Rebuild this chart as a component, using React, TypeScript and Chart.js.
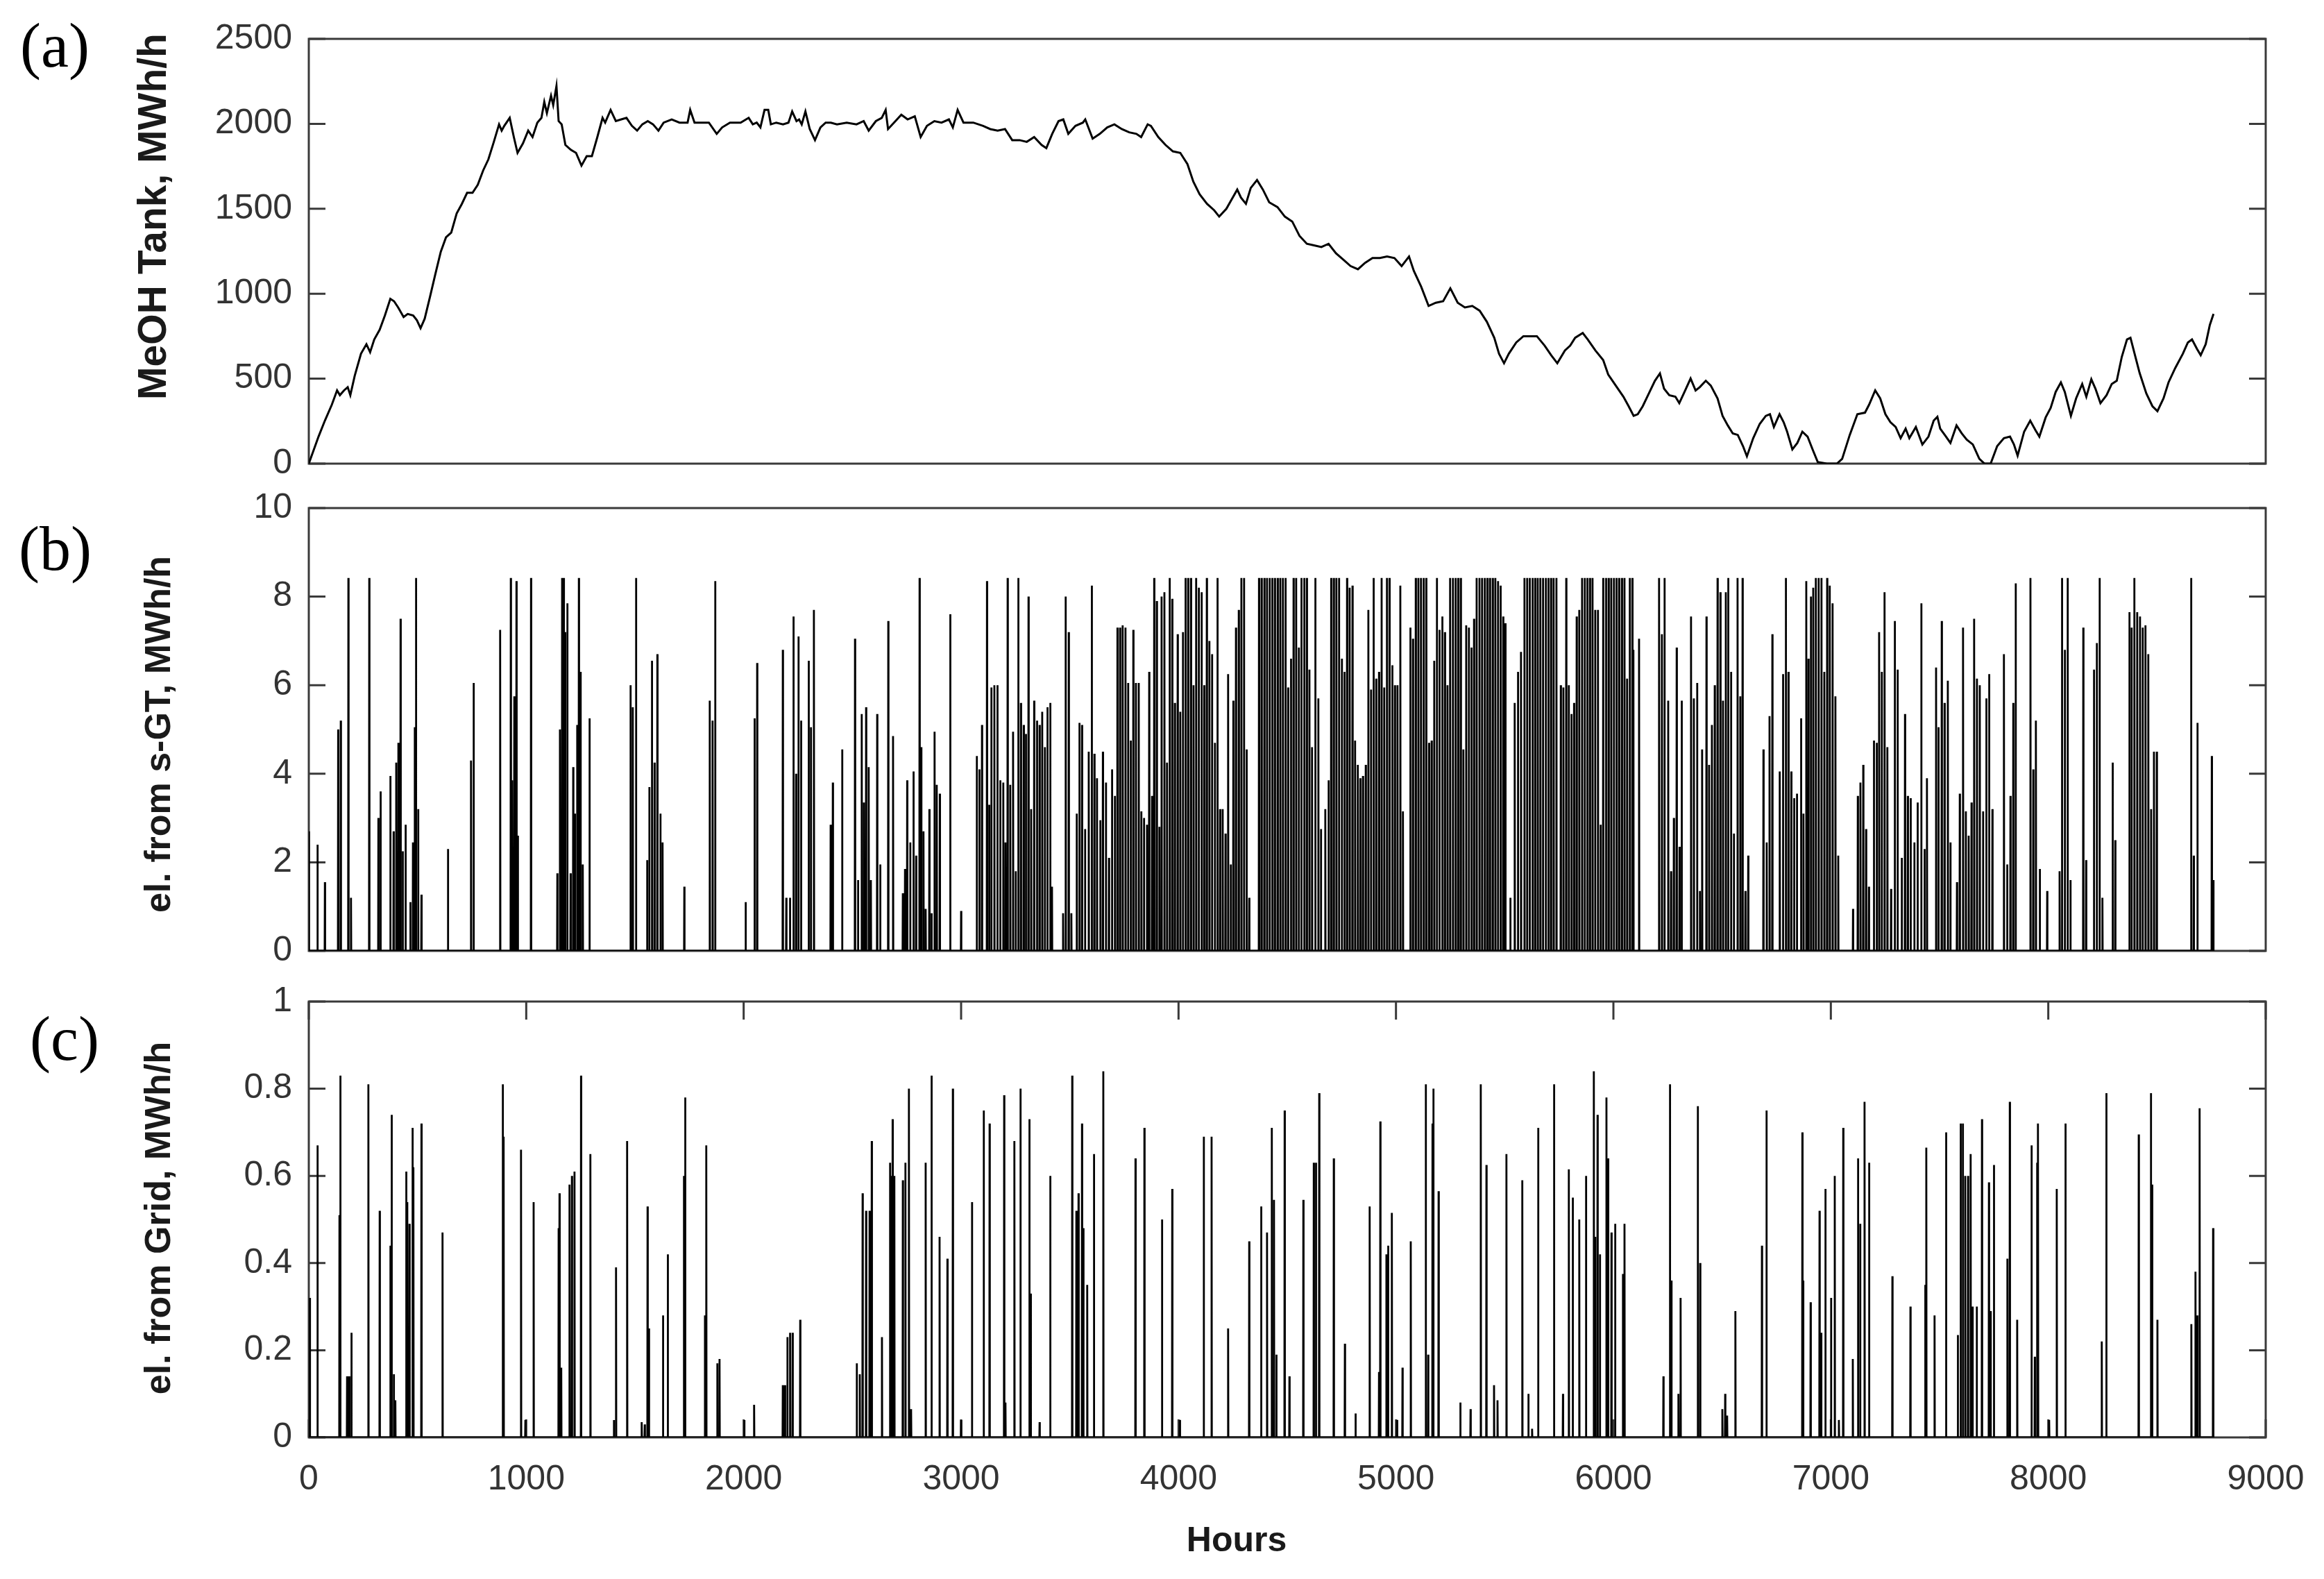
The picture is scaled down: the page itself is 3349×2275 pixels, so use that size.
import React, { useEffect, useRef } from 'react';
import { Chart, registerables } from 'chart.js';

Chart.register(...registerables);

// ---------------- DATA ----------------
const HOURS_IN_YEAR = 8760;
const hourTicks = [0, 1000, 2000, 3000, 4000, 5000, 6000, 7000, 8000, 9000];
const tankTicks = [0, 500, 1000, 1500, 2000, 2500];
const gtTicks = [0, 2, 4, 6, 8, 10];
const gridTicks = [0, 0.2, 0.4, 0.6, 0.8, 1];

// (a) MeOH tank level [hour, MWh/h]
const tankLevel: [number, number][] = [
  [0, 0], [45, 160], [74, 253], [106, 347], [130, 431], [143, 403], [162, 431], [179, 450], [191, 403],
  [211, 516], [240, 647], [265, 703], [282, 656], [301, 731], [326, 788], [350, 872], [375, 970],
  [392, 956], [411, 919], [436, 863], [455, 881], [480, 872], [497, 844], [514, 797], [533, 853],
  [558, 985], [582, 1116], [607, 1247], [631, 1332], [655, 1360], [680, 1472], [704, 1529], [728, 1594],
  [753, 1594], [777, 1641], [802, 1726], [826, 1791], [851, 1894], [875, 1997], [887, 1960], [899, 1988],
  [924, 2035], [943, 1922], [960, 1829], [985, 1885], [1009, 1960], [1029, 1922], [1051, 2007], [1070, 2035],
  [1083, 2129], [1095, 2063], [1114, 2166], [1124, 2110], [1139, 2222], [1149, 2016], [1163, 1997],
  [1180, 1876], [1205, 1847], [1229, 1829], [1254, 1754], [1278, 1810], [1302, 1810], [1327, 1922],
  [1351, 2035], [1363, 2007], [1388, 2082], [1412, 2016], [1437, 2026], [1461, 2035], [1486, 1988],
  [1510, 1960], [1534, 1997], [1559, 2016], [1583, 1997], [1608, 1960], [1632, 2007], [1669, 2026],
  [1705, 2007], [1742, 2007], [1754, 2082], [1774, 2007], [1803, 2007], [1840, 2007], [1876, 1941],
  [1901, 1979], [1937, 2007], [1986, 2007], [2023, 2035], [2042, 1997], [2060, 2007], [2077, 1979],
  [2096, 2082], [2113, 2082], [2125, 1997], [2150, 2007], [2181, 1997], [2206, 2007], [2223, 2073],
  [2243, 2016], [2255, 2026], [2267, 1997], [2284, 2073], [2304, 1969], [2328, 1904], [2353, 1979],
  [2377, 2007], [2401, 2007], [2429, 1997], [2474, 2007], [2519, 1997], [2552, 2016], [2575, 1960],
  [2608, 2016], [2635, 2035], [2653, 2082], [2664, 1969], [2698, 2016], [2725, 2054], [2754, 2026],
  [2787, 2044], [2814, 1922], [2843, 1988], [2877, 2016], [2910, 2007], [2944, 2026], [2962, 1979],
  [2984, 2082], [3011, 2007], [3056, 2007], [3101, 1988], [3134, 1969], [3168, 1960], [3202, 1969],
  [3235, 1904], [3269, 1904], [3302, 1894], [3336, 1922], [3370, 1876], [3392, 1857], [3419, 1941],
  [3448, 2016], [3470, 2026], [3493, 1941], [3526, 1988], [3560, 2007], [3571, 2026], [3605, 1913],
  [3638, 1941], [3672, 1979], [3705, 1997], [3739, 1969], [3773, 1950], [3806, 1941], [3828, 1922],
  [3858, 1997], [3873, 1988], [3907, 1922], [3940, 1876], [3974, 1838], [4008, 1829], [4041, 1763],
  [4068, 1660], [4097, 1585], [4131, 1529], [4164, 1491], [4187, 1454], [4220, 1500], [4249, 1566],
  [4270, 1613], [4287, 1566], [4310, 1529], [4332, 1622], [4361, 1669], [4388, 1613], [4417, 1538],
  [4455, 1510], [4489, 1454], [4523, 1425], [4556, 1341], [4590, 1294], [4623, 1285], [4657, 1275],
  [4690, 1294], [4724, 1238], [4758, 1200], [4791, 1163], [4825, 1144], [4858, 1182], [4892, 1210],
  [4926, 1210], [4959, 1219], [4993, 1210], [5026, 1163], [5060, 1219], [5082, 1135], [5116, 1041],
  [5150, 928], [5183, 947], [5217, 956], [5250, 1032], [5284, 947], [5317, 919], [5351, 928], [5385, 900],
  [5418, 835], [5452, 741], [5474, 647], [5497, 591], [5519, 647], [5553, 713], [5586, 750], [5620, 750],
  [5648, 750], [5684, 694], [5714, 638], [5742, 591], [5777, 666], [5801, 694], [5824, 741], [5859, 769],
  [5882, 731], [5917, 666], [5953, 610], [5976, 525], [6011, 459], [6046, 394], [6070, 338], [6093, 281],
  [6112, 291], [6135, 338], [6163, 413], [6191, 488], [6214, 531], [6233, 441], [6257, 403], [6285, 394],
  [6303, 356], [6327, 422], [6355, 501], [6378, 431], [6397, 450], [6425, 488], [6448, 459], [6479, 384],
  [6502, 281], [6526, 225], [6549, 178], [6572, 169], [6596, 103], [6614, 43], [6643, 150], [6673, 234],
  [6701, 281], [6720, 291], [6738, 216], [6764, 291], [6783, 244], [6799, 188], [6823, 84], [6846, 122],
  [6869, 188], [6893, 159], [6916, 84], [6940, 9], [6982, 0], [7028, 0], [7052, 28], [7087, 169],
  [7122, 291], [7157, 300], [7176, 347], [7204, 431], [7227, 384], [7251, 291], [7274, 244], [7298, 216],
  [7321, 150], [7344, 206], [7361, 150], [7391, 216], [7421, 113], [7449, 159], [7473, 253], [7490, 276],
  [7503, 206], [7524, 169], [7550, 122], [7578, 225], [7602, 178], [7625, 141], [7653, 113], [7683, 28],
  [7707, 0], [7735, 0], [7765, 103], [7796, 150], [7824, 159], [7842, 113], [7859, 47], [7889, 188],
  [7917, 253], [7941, 197], [7959, 159], [7988, 272], [8011, 328], [8034, 422], [8058, 478], [8076, 422],
  [8104, 281], [8128, 384], [8156, 469], [8175, 394], [8198, 497], [8217, 441], [8240, 356], [8268, 403],
  [8292, 469], [8315, 488], [8338, 628], [8362, 731], [8378, 741], [8397, 647], [8420, 534], [8451, 413],
  [8479, 338], [8502, 309], [8530, 384], [8553, 478], [8584, 563], [8619, 647], [8642, 713], [8661, 731],
  [8684, 675], [8701, 638], [8724, 703], [8743, 816], [8760, 881],
];

// (b) electricity from s-GT: hours with output [hour, MWh/h]; zero elsewhere
const gtOutput: [number, number][] = [
  [0, 2.7], [40, 2.4], [74, 1.55], [135, 5.0], [147, 5.2], [182, 8.42], [194, 1.2], [278, 8.42], [320, 3.0],
  [330, 3.6], [375, 3.95], [390, 2.7], [402, 4.25], [412, 4.7], [422, 7.5], [432, 2.25], [445, 2.85],
  [467, 1.1], [479, 2.45], [487, 5.05], [493, 8.42], [503, 3.2], [518, 1.27], [640, 2.3], [746, 4.3],
  [758, 6.05], [880, 7.25], [929, 8.42], [935, 3.85], [945, 5.75], [955, 8.35], [961, 2.6], [1022, 8.42],
  [1143, 1.75], [1155, 5.0], [1165, 8.42], [1173, 8.42], [1179, 7.2], [1189, 7.85], [1204, 1.75],
  [1216, 4.15], [1224, 3.1], [1234, 5.1], [1242, 8.42], [1250, 6.3], [1260, 1.95], [1291, 5.25],
  [1480, 6.0], [1490, 5.5], [1505, 8.42], [1556, 2.05], [1566, 3.7], [1578, 6.55], [1590, 4.25],
  [1603, 6.7], [1617, 3.1], [1627, 2.45], [1727, 1.45], [1844, 5.65], [1857, 5.2], [1869, 8.35],
  [2009, 1.1], [2050, 5.25], [2062, 6.5], [2180, 6.8], [2196, 1.2], [2213, 1.2], [2229, 7.55], [2241, 4.0],
  [2252, 7.1], [2264, 5.2], [2299, 6.55], [2309, 5.05], [2323, 7.7], [2400, 2.85], [2410, 3.8],
  [2453, 4.55], [2512, 7.05], [2526, 1.6], [2543, 5.35], [2553, 3.35], [2563, 5.5], [2575, 4.15],
  [2585, 1.6], [2614, 5.35], [2628, 1.95], [2665, 7.45], [2687, 4.85], [2732, 1.3], [2742, 1.85],
  [2752, 3.85], [2766, 2.45], [2781, 4.05], [2793, 2.15], [2809, 8.42], [2817, 4.6], [2827, 2.7],
  [2837, 0.95], [2854, 3.2], [2864, 0.85], [2878, 4.95], [2888, 3.75], [2902, 3.55], [2950, 7.6],
  [3000, 0.9],
  [3072, 4.4], [3084, 4.1], [3096, 5.1], [3119, 8.35], [3129, 3.3], [3139, 5.95], [3153, 6.0], [3167, 6.0],
  [3180, 3.85], [3194, 3.8], [3204, 2.45], [3214, 8.42], [3226, 3.75], [3239, 4.95], [3251, 1.8],
  [3263, 8.42], [3275, 5.6], [3288, 5.1], [3298, 4.9], [3310, 8.0], [3322, 3.2], [3336, 5.65], [3349, 5.2],
  [3361, 5.1], [3373, 5.4], [3385, 4.6], [3397, 5.5], [3410, 5.6], [3418, 1.45],
  [3469, 0.85], [3481, 8.0], [3495, 7.2], [3507, 0.85], [3532, 3.1], [3544, 5.15], [3556, 5.1], [3570, 2.75],
  [3587, 4.5], [3601, 8.25], [3613, 4.45], [3625, 3.9], [3640, 2.95], [3652, 4.5], [3666, 3.8], [3680, 2.1],
  [3694, 4.1], [3707, 3.5], [3719, 7.3], [3731, 7.3], [3743, 7.35], [3756, 7.3], [3768, 6.05], [3780, 4.75],
  [3792, 7.25], [3804, 6.05], [3817, 6.05], [3829, 3.15], [3841, 3.0],
  [3855, 2.85], [3865, 6.3], [3878, 3.5], [3888, 8.42], [3900, 7.9], [3912, 2.8], [3922, 8.0], [3935, 8.1],
  [3947, 4.25], [3959, 8.42], [3971, 7.95], [3983, 5.6], [3996, 7.15], [4008, 5.4], [4020, 7.2],
  [4032, 8.42], [4044, 8.42], [4057, 8.42], [4069, 6.0], [4081, 8.42], [4093, 8.2], [4106, 8.1], [4118, 6.0],
  [4130, 8.42], [4142, 7.0], [4154, 6.7], [4167, 4.7], [4179, 8.42], [4191, 3.2], [4203, 3.2], [4216, 2.65],
  [4228, 6.25], [4240, 1.95], [4252, 5.65], [4264, 7.3], [4277, 7.7], [4289, 8.42], [4301, 8.42],
  [4313, 4.55], [4325, 1.2],
  [4370, 8.42], [4382, 8.42], [4395, 8.42], [4407, 8.42], [4419, 8.42], [4431, 8.42], [4443, 8.42],
  [4456, 8.42], [4468, 8.42], [4480, 8.42], [4492, 8.42], [4504, 5.95], [4517, 6.6], [4529, 8.42],
  [4541, 8.42], [4553, 6.85], [4565, 8.42], [4578, 8.42], [4590, 8.42], [4602, 6.35], [4614, 4.6],
  [4629, 8.42], [4643, 5.7], [4655, 2.75], [4675, 3.2], [4690, 3.85], [4702, 8.42], [4714, 8.42],
  [4726, 8.42], [4738, 8.42], [4751, 6.6], [4763, 6.3], [4775, 8.42], [4787, 8.2], [4800, 8.25],
  [4812, 4.75], [4824, 4.2], [4836, 3.9], [4848, 3.95], [4861, 4.2], [4873, 7.7], [4885, 5.9], [4897, 8.42],
  [4909, 6.15], [4922, 6.3], [4934, 8.42], [4946, 5.95], [4958, 8.42], [4970, 8.42], [4983, 6.45],
  [4995, 6.0], [5007, 6.0], [5020, 8.25], [5032, 3.15],
  [5066, 7.3], [5078, 7.05], [5091, 8.42], [5103, 8.42], [5115, 8.42], [5127, 8.42], [5139, 8.42],
  [5152, 4.7], [5164, 4.75], [5176, 6.55], [5188, 8.42], [5200, 7.25], [5213, 7.55], [5225, 7.2], [5237, 6.0],
  [5249, 8.42], [5262, 8.42], [5274, 8.42], [5286, 8.42], [5298, 8.42], [5310, 4.55], [5323, 7.35],
  [5335, 7.3], [5347, 6.85], [5359, 7.5], [5371, 8.42], [5384, 8.42], [5396, 8.42], [5408, 8.42],
  [5420, 8.42], [5432, 8.42], [5445, 8.42], [5457, 8.42], [5469, 8.35], [5481, 8.25], [5493, 7.55],
  [5503, 7.4],
  [5526, 1.2], [5546, 5.6], [5561, 6.3], [5575, 6.75], [5591, 8.42], [5603, 8.42], [5615, 8.42],
  [5628, 8.42], [5640, 8.42], [5652, 8.42], [5664, 8.42], [5676, 8.42], [5689, 8.42], [5701, 8.42],
  [5713, 8.42], [5725, 8.42], [5738, 8.42], [5758, 6.0], [5770, 5.95], [5783, 8.42], [5795, 6.0],
  [5807, 5.35], [5819, 5.6], [5831, 7.55], [5843, 7.7], [5856, 8.42], [5868, 8.42], [5880, 8.42],
  [5892, 8.42], [5904, 8.42], [5916, 7.7], [5929, 7.7], [5941, 2.85], [5953, 8.42], [5966, 8.42],
  [5978, 8.42], [5990, 8.42], [6002, 8.42], [6014, 8.42], [6026, 8.42], [6039, 8.42], [6051, 8.42],
  [6063, 6.15], [6075, 8.42], [6087, 8.42], [6092, 6.8], [6118, 7.05],
  [6210, 8.42], [6223, 7.15], [6235, 8.42], [6252, 5.65], [6265, 1.8], [6278, 3.0], [6291, 6.85],
  [6304, 2.35], [6314, 5.65],
  [6357, 7.55], [6370, 5.7], [6385, 6.05], [6398, 1.35], [6408, 4.55], [6428, 7.55], [6440, 4.2],
  [6453, 5.1], [6466, 6.0], [6479, 8.42], [6492, 8.1], [6504, 5.65], [6517, 8.1], [6528, 8.42], [6541, 6.3],
  [6554, 2.65], [6571, 8.42], [6583, 5.75], [6594, 8.42], [6607, 1.35], [6620, 2.15],
  [6690, 4.55], [6705, 2.45], [6718, 5.3], [6731, 7.15], [6765, 4.05], [6780, 6.25], [6793, 8.42],
  [6805, 6.3], [6818, 4.05], [6831, 3.45], [6844, 3.55], [6863, 5.25], [6874, 3.1], [6887, 8.35],
  [6897, 6.6], [6908, 8.0], [6919, 8.2], [6931, 8.42], [6944, 8.42], [6957, 8.42], [6970, 6.3],
  [6983, 8.42], [6995, 8.25], [7008, 7.85], [7021, 5.75], [7034, 2.15],
  [7102, 0.95], [7124, 3.5], [7136, 3.8], [7149, 4.2], [7162, 2.75], [7175, 1.45], [7198, 4.75],
  [7211, 4.7], [7222, 7.2], [7234, 6.3], [7247, 8.1], [7260, 4.6], [7277, 1.4], [7294, 7.45], [7307, 6.35],
  [7326, 2.1], [7341, 5.35], [7354, 3.5], [7367, 3.45], [7384, 2.45], [7399, 3.35], [7416, 7.85],
  [7431, 2.3], [7442, 3.9],
  [7484, 6.4], [7495, 5.05], [7510, 7.45], [7523, 5.6], [7538, 6.1], [7550, 2.45], [7580, 1.55],
  [7593, 3.55], [7608, 7.3], [7621, 3.15], [7634, 2.6], [7647, 3.35], [7659, 7.5], [7672, 6.15],
  [7685, 6.0], [7700, 3.15], [7715, 5.7], [7728, 6.25], [7743, 3.2],
  [7796, 6.7], [7811, 1.95], [7826, 3.5], [7839, 5.6], [7850, 8.3],
  [7918, 8.42], [7931, 4.1], [7943, 5.2], [7961, 1.85], [7995, 1.35],
  [8052, 1.8], [8063, 8.42], [8076, 6.8], [8089, 8.42], [8102, 1.6], [8161, 7.3], [8174, 2.05],
  [8210, 6.35], [8223, 6.95], [8236, 8.42], [8249, 1.2], [8296, 4.25], [8308, 2.5],
  [8373, 7.65], [8383, 7.3], [8396, 8.42], [8409, 7.65], [8422, 7.55], [8434, 7.3], [8447, 7.35],
  [8460, 6.7], [8473, 3.2], [8486, 4.5], [8499, 4.5],
  [8657, 8.42], [8669, 2.15], [8686, 5.15], [8752, 4.4], [8760, 1.6],
];

// (c) electricity from grid: hours with import [hour, MWh/h]; zero elsewhere
const gridImport: [number, number][] = [
  [5, 0.32], [40, 0.67], [141, 0.51], [145, 0.83], [176, 0.14], [186, 0.14], [196, 0.24], [274, 0.81],
  [326, 0.52], [375, 0.44], [381, 0.74], [391, 0.145], [398, 0.085], [448, 0.61], [453, 0.54], [463, 0.49],
  [477, 0.71], [481, 0.62], [518, 0.72], [615, 0.47], [892, 0.81], [896, 0.69], [976, 0.66], [996, 0.04],
  [1034, 0.54], [1149, 0.48], [1153, 0.56], [1161, 0.16], [1199, 0.58], [1210, 0.6], [1222, 0.61],
  [1252, 0.83], [1295, 0.65], [1403, 0.04], [1413, 0.39], [1464, 0.68], [1531, 0.035], [1545, 0.03],
  [1558, 0.53], [1564, 0.25], [1629, 0.28], [1651, 0.42], [1725, 0.6], [1731, 0.78], [1822, 0.28],
  [1828, 0.67], [1879, 0.17], [1889, 0.18], [2003, 0.04], [2048, 0.075], [2180, 0.12], [2190, 0.12],
  [2201, 0.23], [2213, 0.24], [2225, 0.24], [2260, 0.27], [2520, 0.17], [2534, 0.145], [2547, 0.56],
  [2563, 0.52], [2579, 0.52], [2589, 0.68], [2636, 0.23], [2673, 0.63], [2679, 0.6], [2685, 0.73],
  [2693, 0.6], [2732, 0.59], [2744, 0.63], [2760, 0.8], [2770, 0.065], [2837, 0.63], [2864, 0.83],
  [2901, 0.46], [2937, 0.41], [2962, 0.8], [3000, 0.04], [3050, 0.54],
  [3104, 0.75], [3131, 0.72], [3198, 0.785], [3204, 0.08], [3245, 0.68], [3273, 0.8], [3314, 0.73],
  [3320, 0.33], [3361, 0.035], [3410, 0.6], [3511, 0.83], [3530, 0.52], [3540, 0.56], [3556, 0.72],
  [3562, 0.48], [3580, 0.35], [3611, 0.65], [3654, 0.84], [3802, 0.64], [3843, 0.71], [3924, 0.5],
  [3971, 0.57], [4006, 0.04], [4116, 0.69], [4152, 0.69], [4228, 0.25], [4325, 0.45], [4380, 0.53],
  [4407, 0.47], [4429, 0.71], [4439, 0.545], [4450, 0.19], [4488, 0.75], [4510, 0.14], [4574, 0.545],
  [4622, 0.63], [4632, 0.63], [4647, 0.79], [4714, 0.64], [4765, 0.215], [4814, 0.055], [4879, 0.53],
  [4922, 0.15], [4928, 0.725], [4956, 0.42], [4964, 0.44], [4981, 0.515], [5005, 0.04], [5030, 0.16],
  [5068, 0.45], [5137, 0.81], [5148, 0.19], [5168, 0.72], [5172, 0.8], [5196, 0.565], [5296, 0.08],
  [5343, 0.065], [5390, 0.81], [5416, 0.625], [5451, 0.12], [5467, 0.085], [5508, 0.65], [5581, 0.59],
  [5609, 0.1], [5626, 0.02], [5654, 0.71], [5727, 0.81], [5768, 0.1], [5795, 0.615], [5813, 0.55],
  [5843, 0.5], [5874, 0.6], [5910, 0.84], [5916, 0.46], [5927, 0.74], [5938, 0.42], [5968, 0.78],
  [5976, 0.64], [5991, 0.47], [6008, 0.49], [6044, 0.375], [6051, 0.49],
  [6230, 0.14], [6260, 0.81], [6267, 0.36], [6299, 0.1], [6309, 0.32], [6388, 0.76], [6399, 0.4],
  [6501, 0.065], [6514, 0.1], [6523, 0.05], [6561, 0.29], [6683, 0.44], [6704, 0.75], [6869, 0.7],
  [6873, 0.36], [6907, 0.31], [6948, 0.52], [6956, 0.24], [6975, 0.57], [7001, 0.32], [7018, 0.6],
  [7037, 0.04], [7057, 0.71], [7101, 0.18], [7125, 0.64], [7135, 0.49], [7155, 0.77], [7176, 0.63],
  [7283, 0.37], [7366, 0.3], [7434, 0.35], [7439, 0.665], [7477, 0.28], [7530, 0.7], [7584, 0.235],
  [7597, 0.72], [7607, 0.72], [7618, 0.6], [7631, 0.6], [7643, 0.65], [7652, 0.3], [7671, 0.3],
  [7695, 0.73], [7727, 0.585], [7735, 0.29], [7750, 0.625], [7812, 0.41], [7823, 0.77], [7857, 0.27],
  [7923, 0.67], [7938, 0.185], [7949, 0.63], [7953, 0.72], [8004, 0.04], [8039, 0.57], [8079, 0.72],
  [8246, 0.22], [8267, 0.79], [8416, 0.695], [8472, 0.79], [8478, 0.58], [8502, 0.27], [8658, 0.26],
  [8677, 0.38], [8685, 0.28], [8696, 0.755], [8758, 0.48],
];

// ---------------- HELPERS ----------------
const SANS = '"Liberation Sans", Arial, Helvetica, sans-serif';
const SERIF = '"Liberation Serif", "Times New Roman", serif';
const PAGE_W = 3349;
const PLOT_LEFT = 445;
const PLOT_RIGHT = 3265;
const Y_BOX = 200;
const X_BOX = 180;
const AXIS_COLOR = '#3a3a3a';
const TICK_TEXT = '#333333';
const TICK_FONT = 50;

function lineSeries(pairs: [number, number][]) {
  return pairs.map(([x, y]) => ({ x, y }));
}

// hourly series: zero except the listed hours
function hourlySeries(pairs: [number, number][], end: number) {
  const pts: { x: number; y: number }[] = [];
  if (!pairs.length || pairs[0][0] > 0) pts.push({ x: 0, y: 0 });
  for (const [h, v] of pairs) {
    const last = pts.length ? pts[pts.length - 1].x : -Infinity;
    if (h - 1 > last) pts.push({ x: h - 1, y: 0 });
    pts.push({ x: h, y: v });
    if (h + 1 <= end) pts.push({ x: h + 1, y: 0 });
  }
  if (pts[pts.length - 1].x < end) pts.push({ x: end, y: 0 });
  return pts;
}

const framePlugin = {
  id: 'frameTicks',
  beforeDatasetsDraw(chart: any, _args: any, opts: any) {
    const { ctx, chartArea } = chart;
    const { left, right, top, bottom } = chartArea;
    const ys = chart.scales.y;
    const xs = chart.scales.x;
    ctx.save();
    ctx.strokeStyle = AXIS_COLOR;
    ctx.lineWidth = 3;
    ctx.beginPath();
    for (const t of ys.ticks) {
      const py = ys.getPixelForValue(t.value);
      ctx.moveTo(left, py);
      ctx.lineTo(left + opts.len, py);
      ctx.moveTo(right, py);
      ctx.lineTo(right - opts.len, py);
    }
    if (opts.xTicks) {
      for (const t of xs.ticks) {
        const px = xs.getPixelForValue(t.value);
        ctx.moveTo(px, top);
        ctx.lineTo(px, top + opts.xLen);
        ctx.moveTo(px, bottom);
        ctx.lineTo(px, bottom - opts.xLen);
      }
    }
    ctx.stroke();
    ctx.strokeRect(left, top, right - left, bottom - top);
    ctx.restore();
  },
  afterDraw(chart: any, _args: any, opts: any) {
    const { ctx } = chart;
    for (const it of opts.items || []) {
      ctx.save();
      ctx.fillStyle = it.color || '#000';
      ctx.font = `${it.weight || 'normal'} ${it.size}px ${it.family}`;
      ctx.textAlign = it.align || 'center';
      ctx.textBaseline = it.baseline || 'middle';
      ctx.translate(it.x, it.y - opts.offsetTop);
      if (it.rotate) ctx.rotate(-Math.PI / 2);
      ctx.fillText(it.text, 0, 0);
      ctx.restore();
    }
  },
};

function yScale(min: number, max: number, ticks: number[]) {
  return {
    type: 'linear',
    min,
    max,
    afterBuildTicks: (s: any) => {
      s.ticks = ticks.map((v) => ({ value: v }));
    },
    ticks: {
      autoSkip: false,
      callback: (v: number) => String(v),
      font: { family: SANS, size: TICK_FONT },
      color: TICK_TEXT,
      padding: 24,
    },
    grid: { display: false, drawTicks: false, tickLength: 0 },
    border: { display: false },
    afterFit: (s: any) => {
      s.width = Y_BOX;
      s.paddingTop = 0;
      s.paddingBottom = 0;
      s.paddingLeft = 0;
      s.paddingRight = 0;
    },
  };
}

function xScale(show: boolean) {
  return {
    type: 'linear',
    min: 0,
    max: 9000,
    display: show,
    afterBuildTicks: (s: any) => {
      s.ticks = hourTicks.map((v) => ({ value: v }));
    },
    ticks: {
      autoSkip: false,
      maxRotation: 0,
      callback: (v: number) => String(v),
      font: { family: SANS, size: TICK_FONT },
      color: TICK_TEXT,
      padding: 31,
    },
    grid: { display: false, drawTicks: false, tickLength: 0 },
    border: { display: false },
    afterFit: (s: any) => {
      if (show) s.height = X_BOX;
      s.paddingTop = 0;
      s.paddingBottom = 0;
      s.paddingLeft = 0;
      s.paddingRight = 0;
    },
  };
}

type Panel = {
  canvasTop: number;
  canvasHeight: number;
  areaTop: number;
  areaBottom: number;
  showX: boolean;
  yMin: number;
  yMax: number;
  yTicks: number[];
  data: { x: number; y: number }[];
  lineWidth: number;
  items: any[];
};

const panels: Panel[] = [
  {
    canvasTop: 0,
    canvasHeight: 700,
    areaTop: 56,
    areaBottom: 668,
    showX: false,
    yMin: 0,
    yMax: 2500,
    yTicks: tankTicks,
    data: lineSeries(tankLevel),
    lineWidth: 3,
    items: [
      { text: '(a)', x: 29, y: 72, size: 90, family: SERIF, align: 'left' },
      { text: 'MeOH Tank, MWh/h', x: 239, y: 312, size: 57, weight: 'bold', family: SANS, rotate: true, baseline: 'alphabetic', color: '#1a1a1a' },
    ],
  },
  {
    canvasTop: 700,
    canvasHeight: 700,
    areaTop: 732,
    areaBottom: 1370,
    showX: false,
    yMin: 0,
    yMax: 10,
    yTicks: gtTicks,
    data: hourlySeries(gtOutput, HOURS_IN_YEAR),
    lineWidth: 2.8,
    items: [
      { text: '(b)', x: 27, y: 797, size: 90, family: SERIF, align: 'left' },
      { text: 'el. from s-GT, MWh/h', x: 245, y: 1058, size: 52, weight: 'bold', family: SANS, rotate: true, baseline: 'alphabetic', color: '#1a1a1a' },
    ],
  },
  {
    canvasTop: 1400,
    canvasHeight: 875,
    areaTop: 1443,
    areaBottom: 2071,
    showX: true,
    yMin: 0,
    yMax: 1,
    yTicks: gridTicks,
    data: hourlySeries(gridImport, HOURS_IN_YEAR),
    lineWidth: 2.8,
    items: [
      { text: '(c)', x: 43, y: 1503, size: 90, family: SERIF, align: 'left' },
      { text: 'el. from Grid, MWh/h', x: 245, y: 1755, size: 52, weight: 'bold', family: SANS, rotate: true, baseline: 'alphabetic', color: '#1a1a1a' },
      { text: 'Hours', x: 1782, y: 2221, size: 50, weight: 'bold', family: SANS, color: '#1a1a1a' },
    ],
  },
];

function PanelChart({ panel }: { panel: Panel }) {
  const ref = useRef<HTMLCanvasElement | null>(null);
  useEffect(() => {
    if (!ref.current) return;
    const p = panel;
    const bottomPad = p.canvasTop + p.canvasHeight - p.areaBottom - (p.showX ? X_BOX : 0);
    const chart = new Chart(ref.current, {
      type: 'line',
      data: {
        datasets: [
          {
            data: p.data,
            borderColor: '#000000',
            borderWidth: p.lineWidth,
            pointRadius: 0,
            tension: 0,
            fill: false,
          },
        ],
      },
      options: {
        responsive: false,
        animation: false,
        devicePixelRatio: 1,
        events: [],
        parsing: false,
        normalized: true,
        layout: {
          padding: {
            left: PLOT_LEFT - Y_BOX,
            right: PAGE_W - PLOT_RIGHT,
            top: p.areaTop - p.canvasTop,
            bottom: bottomPad,
          },
        },
        scales: {
          x: xScale(p.showX) as any,
          y: yScale(p.yMin, p.yMax, p.yTicks) as any,
        },
        plugins: {
          legend: { display: false },
          tooltip: { enabled: false },
          frameTicks: { len: 24, xTicks: p.showX, xLen: 26, offsetTop: p.canvasTop, items: p.items },
        } as any,
      },
      plugins: [framePlugin],
    } as any);
    return () => chart.destroy();
  }, [panel]);
  return (
    <canvas
      ref={ref}
      width={PAGE_W}
      height={panel.canvasHeight}
      style={{ position: 'absolute', left: 0, top: panel.canvasTop, width: PAGE_W, height: panel.canvasHeight }}
    />
  );
}

export default function App() {
  return (
    <div style={{ position: 'absolute', left: 0, top: 0, width: PAGE_W, height: 2275, background: '#ffffff' }}>
      {panels.map((p, i) => (
        <PanelChart key={i} panel={p} />
      ))}
    </div>
  );
}
